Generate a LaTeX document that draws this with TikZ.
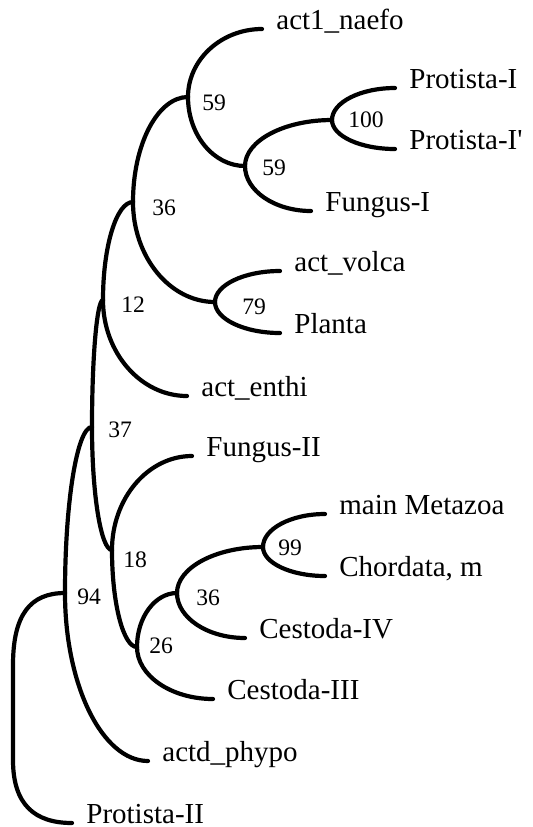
\documentclass[tikz,border=0pt]{standalone}
\usepackage{fontspec}
\setmainfont{Liberation Serif}
\usepackage{tikz}
\usetikzlibrary{calc}

\begin{document}
\begin{tikzpicture}[
  x=0.5pt, y=-0.5pt,
  branch/.style={line width=2.1pt, line cap=round,
    to path={.. controls ($(\tikztostart)!0.55!(\tikztostart|-\tikztotarget)$)
      and ($(\tikztotarget)!0.55!(\tikztostart|-\tikztotarget)$) .. (\tikztotarget)}},
  leaf/.style={anchor=base west, inner xsep=7pt, inner ysep=0pt, font=\fontsize{14.5}{17}\selectfont},
  boot/.style={anchor=west, inner sep=0pt, font=\fontsize{11.8}{13}\selectfont}
]
\useasboundingbox (0,0) rectangle (532,827);

\coordinate (n94) at (65,593);
\coordinate (n37) at (92,427);
\coordinate (n12) at (103,300);
\coordinate (n36a) at (133,202);
\coordinate (n59a) at (188,97);
\coordinate (n59b) at (245,166);
\coordinate (n100) at (332,120);
\coordinate (n79) at (215,302);
\coordinate (n18) at (112,550);
\coordinate (n26) at (137,647);
\coordinate (n36b) at (177,593);
\coordinate (n99) at (263,547);
\coordinate (upleft) at (13,665);
\coordinate (lowleft) at (13,760);

\node[leaf] (naefo) at (262,29) {act1\_naefo};
\node[leaf] (protI) at (395,88) {Protista-I};
\node[leaf] (protIp) at (395,149) {Protista-I\textquotesingle};
\node[leaf] (fungI) at (311,211) {Fungus-I};
\node[leaf] (volca) at (280,271) {act\_volca};
\node[leaf] (planta) at (280,333) {Planta};
\node[leaf] (enthi) at (187,396) {act\_enthi};
\node[leaf] (fungII) at (192,456) {Fungus-II};
\node[leaf] (metazoa) at (325,514) {main Metazoa};
\node[leaf] (chord) at (325,576) {Chordata, m};
\node[leaf] (cestIV) at (245,638) {Cestoda-IV};
\node[leaf] (cestIII) at (213,699) {Cestoda-III};
\node[leaf] (phypo) at (148,761) {actd\_phypo};
\node[leaf] (protII) at (72,823) {Protista-II};

\node[boot] (b59a) at (202,103) {59};
\node[boot] (b59b) at (262,168) {59};
\node[boot] (b100) at (348,120) {100};
\node[boot] (b36a) at (152,208) {36};
\node[boot] (b79) at (242,307) {79};
\node[boot] (b12) at (121,305) {12};
\node[boot] (b37) at (108,430) {37};
\node[boot] (b18) at (123,560) {18};
\node[boot] (b94) at (77,597) {94};
\node[boot] (b26) at (149,646) {26};
\node[boot] (b36b) at (196,598) {36};
\node[boot] (b99) at (278,548) {99};

\draw[branch] (n94) to (n37);
\draw[branch] (n94) to (phypo.base west);
\draw[branch] (n94) .. controls (30,593) and (13,615) .. (upleft) -- (lowleft)
  .. controls (13,805) and (35,823) .. (protII.base west);
\draw[branch] (n37) to (n12);
\draw[branch] (n37) to (n18);
\draw[branch] (n12) to (n36a);
\draw[branch] (n12) to (enthi.base west);
\draw[branch] (n36a) to (n59a);
\draw[branch] (n36a) to (n79);
\draw[branch] (n59a) to (naefo.base west);
\draw[branch] (n59a) to (n59b);
\draw[branch] (n59b) to (n100);
\draw[branch] (n59b) to (fungI.base west);
\draw[branch] (n100) to (protI.base west);
\draw[branch] (n100) to (protIp.base west);
\draw[branch] (n79) to (volca.base west);
\draw[branch] (n79) to (planta.base west);
\draw[branch] (n18) to (fungII.base west);
\draw[branch] (n18) to (n26);
\draw[branch] (n26) to (n36b);
\draw[branch] (n26) to (cestIII.base west);
\draw[branch] (n36b) to (n99);
\draw[branch] (n36b) to (cestIV.base west);
\draw[branch] (n99) to (metazoa.base west);
\draw[branch] (n99) to (chord.base west);
\end{tikzpicture}
\end{document}
